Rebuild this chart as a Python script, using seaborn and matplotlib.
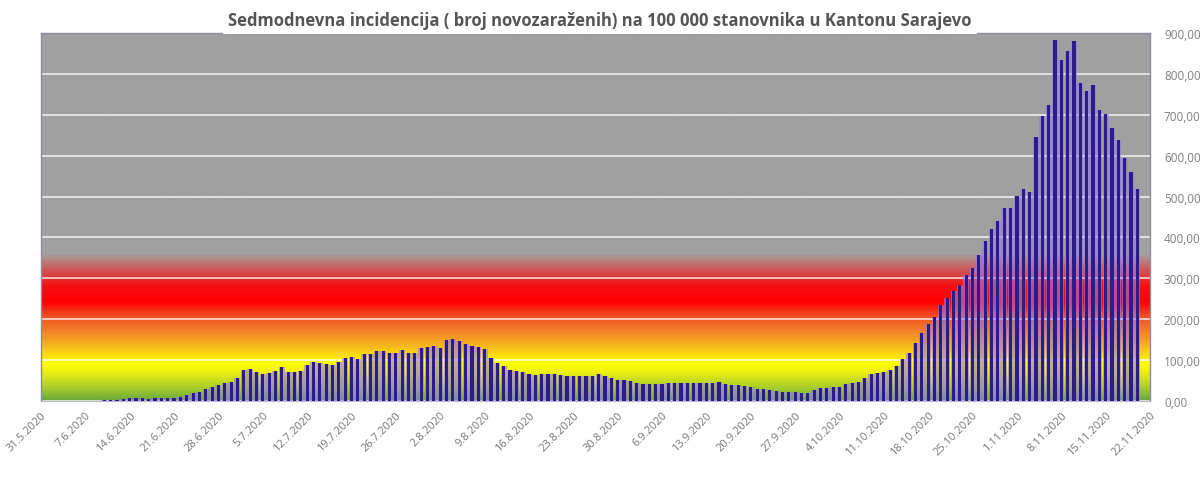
import numpy as np
import pandas as pd
import matplotlib
matplotlib.use("Agg")
import matplotlib.pyplot as plt
from matplotlib.colors import LinearSegmentedColormap
import seaborn as sns

# ---- data -------------------------------------------------------------
start_date = "2020-05-31"
values = [0, 0, 0, 0, 0, 0, 0, 0, 0, 0,
          3, 3, 3, 4, 8, 8, 8, 6, 7, 7,
          8, 8, 11, 15, 19, 23, 29, 35, 38, 43,
          47, 56, 76, 78, 70, 66, 68, 73, 83, 72,
          72, 74, 88, 96, 93, 91, 87, 96, 105, 107,
          102, 115, 115, 122, 122, 118, 118, 124, 118, 118,
          129, 133, 135, 130, 148, 151, 146, 140, 135, 133,
          127, 104, 92, 86, 76, 73, 71, 67, 64, 67,
          67, 67, 64, 62, 62, 62, 60, 62, 65, 60,
          56, 51, 51, 50, 45, 42, 42, 42, 41, 45,
          45, 45, 43, 43, 43, 43, 45, 47, 41, 39,
          38, 37, 35, 29, 29, 27, 25, 22, 22, 22,
          20, 20, 27, 31, 33, 34, 34, 42, 45, 47,
          56, 65, 69, 72, 77, 86, 102, 117, 143, 167,
          188, 205, 235, 252, 268, 284, 309, 325, 358, 392,
          420, 441, 472, 472, 501, 519, 510, 646, 696, 725,
          883, 833, 855, 880, 777, 758, 774, 711, 701, 668,
          639, 595, 560, 518]
x_tick_labels = ["31.5.2020", "7.6.2020", "14.6.2020", "21.6.2020", "28.6.2020",
                 "5.7.2020", "12.7.2020", "19.7.2020", "26.7.2020", "2.8.2020",
                 "9.8.2020", "16.8.2020", "23.8.2020", "30.8.2020", "6.9.2020",
                 "13.9.2020", "20.9.2020", "27.9.2020", "4.10.2020", "11.10.2020",
                 "18.10.2020", "25.10.2020", "1.11.2020", "8.11.2020", "15.11.2020",
                 "22.11.2020"]
y_ticks = [0, 100, 200, 300, 400, 500, 600, 700, 800, 900]
y_tick_labels = ["0,00", "100,00", "200,00", "300,00", "400,00",
                 "500,00", "600,00", "700,00", "800,00", "900,00"]
title = "Sedmodnevna incidencija ( broj novozaraženih) na 100 000 stanovnika u Kantonu Sarajevo"

# background colour bands (value, colour)
band_stops = [(0, "#6aaa3c"), (30, "#a8cc2c"), (70, "#f0f010"), (90, "#ffff00"),
              (135, "#f5b41e"), (176, "#f27828"), (209, "#f04a20"), (240, "#ff0000"),
              (282, "#f51010"), (311, "#d84848"), (336, "#c07272"), (360, "#a2a0a0"),
              (900, "#a0a0a0")]

dates = pd.date_range(start_date, periods=len(values), freq="D")
day = (dates - pd.Timestamp(start_date)).days
df = pd.DataFrame({"day": day, "value": values})

# ---- figure -----------------------------------------------------------
sns.set_theme(style="white")
plt.rcParams["font.family"] = ["Open Sans", "DejaVu Sans"]

fig = plt.figure(figsize=(12, 4.89), dpi=100)
ax = fig.add_axes([41 / 1200, 1 - 402 / 489, (1150 - 41) / 1200, (402 - 34) / 489])

n_days = 7 * (len(x_tick_labels) - 1)
ymax = y_ticks[-1]

# gradient background
cmap = LinearSegmentedColormap.from_list(
    "bands", [(v / ymax, c) for v, c in band_stops])
grad = np.linspace(0, 1, 600).reshape(-1, 1)
ax.imshow(grad, extent=[0, n_days, 0, ymax], origin="lower", aspect="auto",
          cmap=cmap, zorder=-1, interpolation="bilinear")

# bars: soft purple halo + dark core
sns.barplot(data=df, x="day", y="value", native_scale=True, width=0.95,
            color="#9478f0", alpha=0.6, saturation=1, errorbar=None,
            linewidth=0, ax=ax, zorder=2)
sns.barplot(data=df, x="day", y="value", native_scale=True, width=0.5,
            color="#2c1c88", saturation=1, errorbar=None,
            linewidth=0, ax=ax, zorder=3)

ax.set_xlim(0, n_days)
ax.set_ylim(0, ymax)

# grid
ax.set_axisbelow(True)
ax.yaxis.grid(True, color="white", alpha=0.75, linewidth=1.3)
ax.xaxis.grid(False)

# axes styling
ax.set_xticks(np.arange(0, n_days + 1, 7))
ax.set_xticklabels(x_tick_labels, rotation=45, ha="right", va="top",
                   rotation_mode="anchor", fontsize=8, color="#777777")
ax.set_yticks(y_ticks)
ax.set_yticklabels(y_tick_labels, fontsize=8.5, color="#808080")
ax.yaxis.tick_right()
ax.tick_params(axis="y", length=0, pad=10)
ax.tick_params(axis="x", length=0, pad=6)
ax.set_xlabel("")
ax.set_ylabel("")
for side in ["left", "top", "right"]:
    ax.spines[side].set_color("#8a8aa8")
    ax.spines[side].set_linewidth(1.0)
ax.spines["bottom"].set_color("#b8b8c8")
ax.spines["bottom"].set_linewidth(0.8)

fig.text(0.5, 1 - 21 / 489, title, ha="center", va="center", fontsize=12,
         fontweight="bold", color="#555555",
         bbox=dict(facecolor="white", edgecolor="none", pad=3.5))

fig.savefig("out.png", dpi=100, facecolor="white")
